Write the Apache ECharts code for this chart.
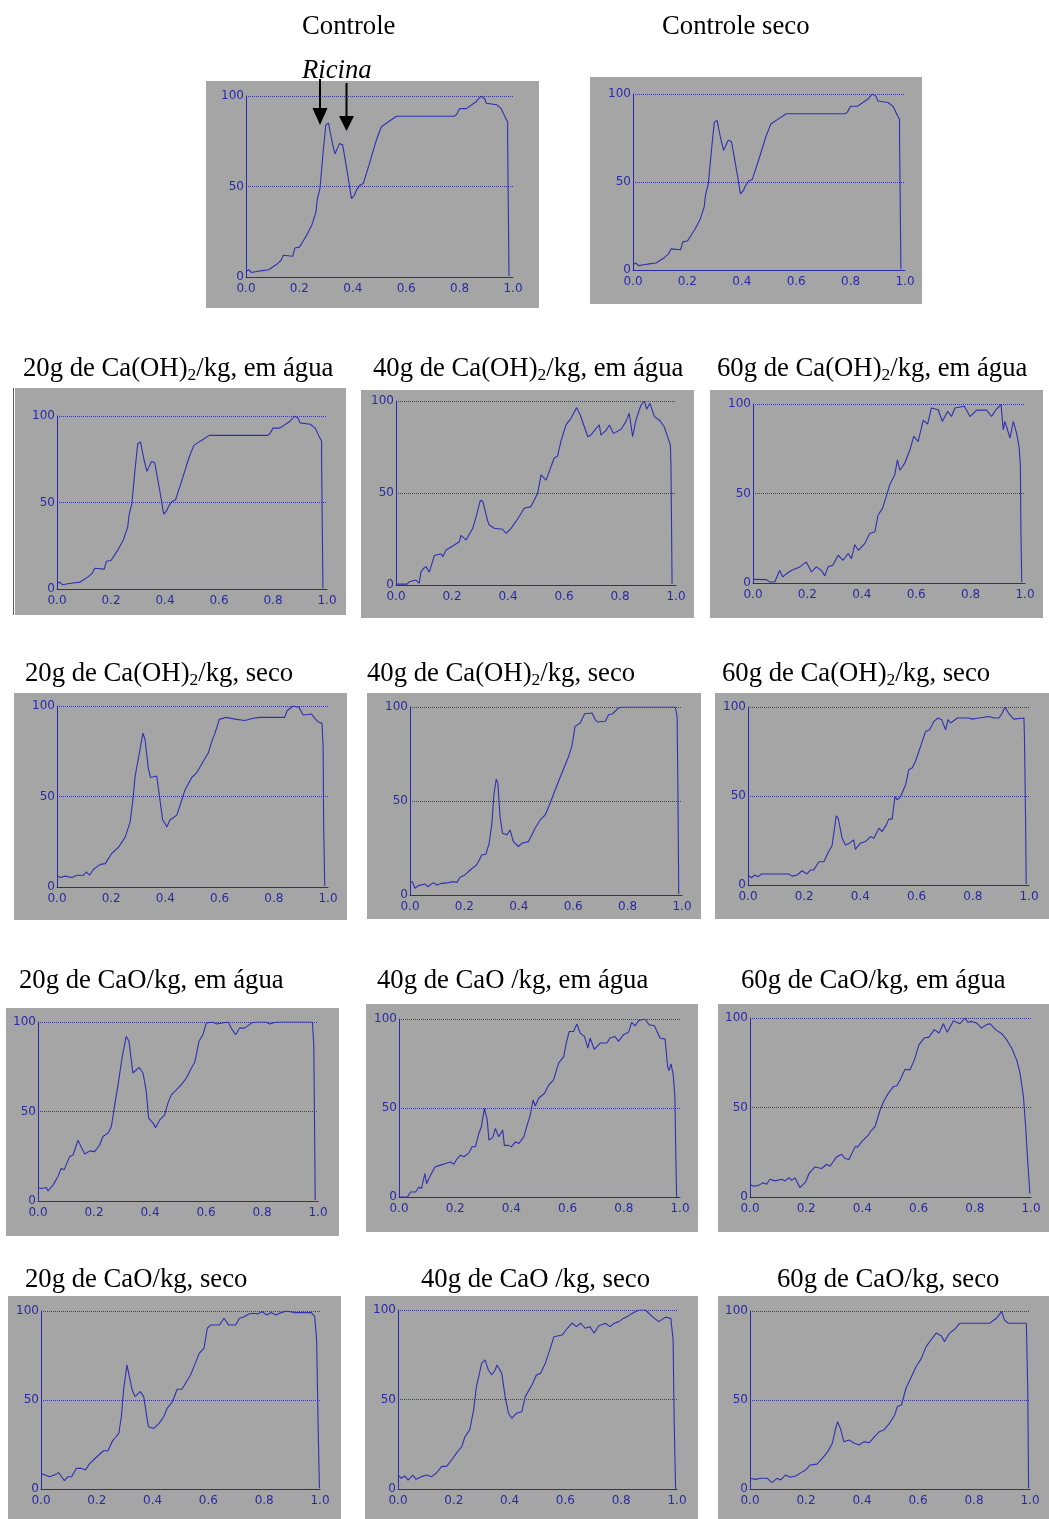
<!DOCTYPE html>
<html>
<head>
<meta charset="utf-8">
<script src="https://cdn.jsdelivr.net/npm/echarts@6/dist/echarts.min.js"></script>
<style>
  html, body { margin: 0; padding: 0; background: #ffffff; }
  #chart { width: 1049px; height: 1519px; }
</style>
</head>
<body>
<div id="chart"></div>
<script>
// Relative particle-size distribution curves (x: 0..1, y: 0..100)
const xTicks = [0.0, 0.2, 0.4, 0.6, 0.8, 1.0];
const yTicks = [0, 50, 100];

const controle = [[0,3],[0.01,4],[0.02,2.5],[0.04,3],[0.06,3.5],[0.085,4],[0.1,5.5],[0.115,7],[0.13,9],[0.14,12],[0.175,11.5],[0.183,16],[0.2,16.5],[0.215,20],[0.227,23],[0.246,28.5],[0.258,34],[0.262,36],[0.267,43],[0.277,49],[0.289,69],[0.299,84],[0.309,85],[0.322,75],[0.333,68],[0.35,73.7],[0.362,73],[0.377,60],[0.388,50],[0.395,43.3],[0.405,45],[0.414,48],[0.425,50.5],[0.439,51.6],[0.464,63.5],[0.489,76],[0.507,83],[0.532,85.6],[0.564,88.8],[0.78,88.8],[0.788,89.7],[0.8,93],[0.825,93],[0.863,97],[0.88,100],[0.894,98.5],[0.9,96],[0.938,95.2],[0.956,93],[0.973,87.5],[0.98,85.6],[0.98,74.6],[0.985,0.5]];

const controleSeco = [[0,3],[0.01,4],[0.02,2.5],[0.04,3],[0.06,3.5],[0.085,4],[0.1,5.5],[0.115,7],[0.13,9],[0.14,12],[0.175,11.5],[0.183,16],[0.2,16.5],[0.215,20],[0.227,23],[0.246,28.5],[0.258,34],[0.262,36],[0.267,43],[0.277,49],[0.289,69],[0.299,84],[0.309,85],[0.322,75],[0.333,68],[0.35,73.7],[0.362,73],[0.377,60],[0.388,50],[0.395,43.3],[0.405,45],[0.414,48],[0.425,50.5],[0.439,51.6],[0.464,63.5],[0.489,76],[0.507,83],[0.532,85.6],[0.564,88.8],[0.78,88.8],[0.788,89.7],[0.8,93],[0.825,93],[0.863,97],[0.88,100],[0.894,98.5],[0.9,96],[0.938,95.2],[0.956,93],[0.973,87.5],[0.98,85.6],[0.98,74.6],[0.985,0.5]];

const caoh20Agua = [[0,3],[0.01,4],[0.02,2.5],[0.04,3],[0.06,3.5],[0.085,4],[0.1,5.5],[0.115,7],[0.13,9],[0.14,12],[0.175,11.5],[0.183,16],[0.2,16.5],[0.215,20],[0.227,23],[0.246,28.5],[0.258,34],[0.262,36],[0.267,43],[0.277,49],[0.289,69],[0.299,84],[0.309,85],[0.322,75],[0.333,68],[0.35,73.7],[0.362,73],[0.377,60],[0.388,50],[0.395,43.3],[0.405,45],[0.414,48],[0.425,50.5],[0.439,51.6],[0.464,63.5],[0.489,76],[0.507,83],[0.532,85.6],[0.564,88.8],[0.78,88.8],[0.788,89.7],[0.8,93],[0.825,93],[0.863,97],[0.88,100],[0.894,98.5],[0.9,96],[0.938,95.2],[0.956,93],[0.973,87.5],[0.98,85.6],[0.98,74.6],[0.985,0.5]];

const caoh40Agua = [[0,0.5],[0.04,0.5],[0.048,1.8],[0.071,2.7],[0.083,1],[0.089,7],[0.098,9],[0.107,10],[0.119,7],[0.137,16],[0.161,17],[0.167,15.4],[0.179,19],[0.208,21.7],[0.226,23.5],[0.232,27],[0.25,24.5],[0.274,30.8],[0.286,37],[0.301,46],[0.31,45.5],[0.327,35],[0.333,32.6],[0.351,30.8],[0.381,30.3],[0.393,28],[0.411,30.8],[0.435,36],[0.458,41.7],[0.482,42.6],[0.506,49.8],[0.518,59.8],[0.536,57],[0.565,69],[0.577,70],[0.589,78],[0.607,87],[0.625,90.6],[0.645,96.4],[0.658,92.4],[0.685,80.6],[0.696,81.5],[0.714,85],[0.726,87],[0.732,81.5],[0.75,84],[0.762,87],[0.777,82.4],[0.804,84.6],[0.821,88.8],[0.833,93.3],[0.845,80.6],[0.857,89.7],[0.875,97.8],[0.887,100],[0.895,95.6],[0.907,98.7],[0.923,91.5],[0.94,89.7],[0.958,86],[0.97,80.6],[0.98,76],[0.982,65],[0.986,0.5]];

const caoh60Agua = [[0,2],[0.049,1.9],[0.061,0.6],[0.08,0.6],[0.098,7],[0.11,3.4],[0.123,5.2],[0.141,7],[0.172,9],[0.196,11.8],[0.215,6.2],[0.233,9],[0.252,7],[0.264,4],[0.276,9],[0.294,10],[0.313,15.5],[0.331,12.7],[0.35,16.5],[0.362,13.6],[0.374,21.5],[0.387,18.3],[0.411,22],[0.429,27.7],[0.448,28.6],[0.46,38],[0.476,41.7],[0.491,49],[0.503,55],[0.521,60.4],[0.531,68.8],[0.54,63],[0.558,67],[0.577,74.4],[0.591,82],[0.607,79],[0.626,91],[0.642,88.8],[0.656,97.8],[0.681,96.8],[0.696,90.3],[0.716,95.9],[0.73,93],[0.742,97.8],[0.777,98.7],[0.798,93],[0.822,96.6],[0.859,96.6],[0.877,93],[0.892,96.6],[0.912,99.6],[0.92,85.6],[0.926,90.3],[0.945,81],[0.957,90.3],[0.969,83.7],[0.978,76.3],[0.983,66],[0.985,28.6],[0.988,0.5]];

const caoh20Seco = [[0,6.5],[0.012,5.2],[0.031,6],[0.055,5.2],[0.074,6.5],[0.098,6.5],[0.108,8.3],[0.12,6.5],[0.135,9.8],[0.16,12.5],[0.178,12.9],[0.202,18.5],[0.227,22],[0.252,27.7],[0.27,36],[0.28,48],[0.288,61],[0.307,76.6],[0.317,85],[0.325,81.5],[0.337,65.5],[0.345,60.5],[0.368,61.3],[0.38,48],[0.39,37],[0.399,35],[0.405,33.2],[0.417,37],[0.442,39.7],[0.456,46],[0.472,53.5],[0.497,60.5],[0.515,63],[0.534,68],[0.558,74],[0.571,80.3],[0.583,85],[0.599,92.6],[0.623,93.7],[0.663,92.6],[0.693,92],[0.724,93.2],[0.748,93.7],[0.84,93.7],[0.849,97.4],[0.871,100],[0.893,99.3],[0.908,95],[0.939,95.6],[0.951,93.2],[0.963,91.3],[0.978,90.4],[0.982,77.5],[0.984,33],[0.988,0.4]];

const caoh40Seco = [[0,6.6],[0.009,7],[0.018,3.6],[0.031,5],[0.055,5.9],[0.065,4.4],[0.086,6.6],[0.098,5.3],[0.117,6.2],[0.141,6.6],[0.16,7.1],[0.172,6.6],[0.184,9.4],[0.202,10.7],[0.221,13.3],[0.245,16],[0.264,21.3],[0.279,21.7],[0.291,27.5],[0.301,38],[0.309,54],[0.317,61.6],[0.323,59.5],[0.331,41.7],[0.34,32.9],[0.356,32],[0.368,34.6],[0.38,28.4],[0.399,25.8],[0.411,27.5],[0.436,28.4],[0.46,35.5],[0.479,40],[0.497,42.6],[0.515,48.8],[0.534,56],[0.558,64.8],[0.583,73.7],[0.595,79],[0.607,89.7],[0.626,91.5],[0.642,96.4],[0.669,96.8],[0.681,93.3],[0.691,92],[0.718,92.4],[0.73,95.9],[0.745,96.4],[0.767,99.5],[0.779,100],[0.975,100],[0.982,95],[0.985,55.8],[0.988,0.5]];

const caoh60Seco = [[0,5.6],[0.012,4.1],[0.024,5.6],[0.036,4.7],[0.048,6.2],[0.145,6.2],[0.157,5],[0.175,5.6],[0.192,8],[0.21,6.2],[0.222,8.4],[0.234,8.4],[0.252,13.1],[0.27,13.1],[0.287,18.8],[0.299,22],[0.314,38.8],[0.321,37.5],[0.335,26.3],[0.347,22.5],[0.361,23.5],[0.376,25.3],[0.382,20],[0.4,23.5],[0.418,24.4],[0.436,27.2],[0.448,26.3],[0.466,31.9],[0.477,30],[0.492,33.8],[0.501,37],[0.513,37],[0.523,49.7],[0.531,47.8],[0.543,49.7],[0.561,56.3],[0.572,64.7],[0.584,65.7],[0.596,69.4],[0.608,75],[0.618,79.7],[0.632,86.3],[0.646,87.2],[0.661,91.9],[0.677,93.8],[0.689,92.9],[0.703,87.2],[0.712,92.9],[0.721,91],[0.745,93.8],[0.786,93.8],[0.798,93.2],[0.822,93.8],[0.857,94.7],[0.875,93.8],[0.893,93.8],[0.905,96.6],[0.914,100],[0.929,96.2],[0.946,93.2],[0.982,93.8],[0.984,81.6],[0.988,34.7],[0.99,0.5]];

const cao20Agua = [[0,7.5],[0.012,7],[0.018,6.2],[0.03,7.5],[0.036,5.6],[0.054,9],[0.071,13.6],[0.083,18.3],[0.093,17.4],[0.113,24.8],[0.125,25.7],[0.143,34],[0.155,29.9],[0.167,26.3],[0.185,28],[0.202,27.6],[0.22,31.3],[0.232,36],[0.25,37.9],[0.262,41.6],[0.274,53.7],[0.286,65],[0.301,80.8],[0.315,92],[0.325,89.2],[0.339,71.5],[0.345,70.5],[0.361,74.6],[0.375,71.5],[0.387,61],[0.395,46.3],[0.411,43.5],[0.42,41],[0.435,45.3],[0.452,48.1],[0.464,54.7],[0.476,59.3],[0.494,62.1],[0.512,65],[0.53,68.7],[0.548,74.3],[0.56,77.6],[0.575,89.2],[0.589,92.9],[0.601,99.4],[0.625,100],[0.637,98.9],[0.679,100],[0.69,96.6],[0.706,92.9],[0.72,96.6],[0.738,96.6],[0.762,99.4],[0.768,98.5],[0.78,100],[0.815,100],[0.827,98.9],[0.839,99.4],[0.857,100],[0.935,100],[0.94,99.1],[0.946,100],[0.98,100],[0.985,87.3],[0.988,37],[0.99,0.5]];

const cao40Agua = [[0,0],[0.03,0],[0.041,2.8],[0.059,2.8],[0.071,5.6],[0.08,4.7],[0.092,13.2],[0.098,7.5],[0.112,12.2],[0.128,16.9],[0.148,17.9],[0.166,18.8],[0.183,19.7],[0.195,18.4],[0.207,21.6],[0.219,23.5],[0.231,22.6],[0.249,24.8],[0.26,28.2],[0.272,28.2],[0.284,35.7],[0.293,39.5],[0.304,49.8],[0.314,43.2],[0.32,32],[0.334,33.5],[0.343,38.5],[0.355,33.8],[0.369,37.6],[0.375,29],[0.39,29],[0.4,28.2],[0.414,31],[0.426,30],[0.444,33.8],[0.456,40.4],[0.467,46],[0.477,54.5],[0.485,51.1],[0.497,55.5],[0.518,58.3],[0.533,62.9],[0.55,65.8],[0.568,75.2],[0.586,78.9],[0.595,86.5],[0.606,93],[0.621,93],[0.633,97.2],[0.645,92.1],[0.66,90.2],[0.672,83.6],[0.68,89.3],[0.695,83],[0.716,86.5],[0.74,86.5],[0.751,89.3],[0.769,90.2],[0.781,87.4],[0.799,91.2],[0.817,92.5],[0.828,98.1],[0.84,96.2],[0.854,99.2],[0.876,100],[0.89,96.8],[0.909,96.2],[0.929,89.3],[0.947,88.7],[0.956,73.3],[0.961,71],[0.968,74.8],[0.976,68.6],[0.982,55.5],[0.985,24.4],[0.988,0]];

const cao60Agua = [[0,7.1],[0.012,6],[0.03,6.5],[0.047,7.9],[0.059,7.1],[0.071,9.9],[0.089,9],[0.113,9.9],[0.125,9],[0.139,10.8],[0.148,9.3],[0.16,10.7],[0.178,5.2],[0.198,8.4],[0.21,13.1],[0.231,16.8],[0.255,15.9],[0.273,18.3],[0.285,17.2],[0.308,22.4],[0.326,23.9],[0.338,21.5],[0.352,20.9],[0.374,28],[0.383,28],[0.397,30.8],[0.421,34.6],[0.433,37.4],[0.445,39.3],[0.463,48.6],[0.478,54.2],[0.492,57.9],[0.51,61.7],[0.522,62],[0.534,65.4],[0.552,71.4],[0.569,71],[0.585,76.6],[0.601,85],[0.62,88.8],[0.637,89.3],[0.656,93.5],[0.673,91.6],[0.688,96.8],[0.702,92],[0.724,98.5],[0.747,96.8],[0.765,100],[0.775,97.6],[0.789,98.1],[0.807,97.2],[0.824,94.4],[0.842,96.3],[0.854,96.8],[0.874,93.5],[0.896,91.2],[0.913,87.9],[0.931,83.2],[0.949,76.6],[0.961,69.2],[0.973,56.1],[0.981,39.3],[0.988,20.6],[0.996,1.9]];

const cao20Seco = [[0,8.8],[0.014,7.9],[0.031,6.9],[0.048,7.9],[0.063,9.2],[0.072,7.3],[0.084,4.7],[0.096,6.9],[0.11,6.9],[0.127,11.6],[0.144,11.6],[0.159,10.7],[0.175,14.4],[0.188,16.3],[0.207,19.1],[0.224,21.5],[0.24,21.5],[0.255,26.6],[0.264,28.5],[0.279,31.3],[0.288,40.6],[0.296,55.6],[0.308,69.7],[0.315,68.7],[0.327,55.6],[0.337,51.9],[0.356,54.7],[0.368,51.9],[0.385,35],[0.404,34],[0.423,36.9],[0.44,40.6],[0.452,45.3],[0.471,49],[0.488,56],[0.505,56],[0.519,59.7],[0.536,64],[0.553,70.6],[0.567,76.2],[0.584,79],[0.596,90.3],[0.608,92.1],[0.639,92.1],[0.656,95.9],[0.673,92.1],[0.697,92.1],[0.712,95.9],[0.728,96.8],[0.745,98.3],[0.76,98.7],[0.776,98.3],[0.793,99.6],[0.808,97.8],[0.825,99.1],[0.841,97.8],[0.861,99.1],[0.88,100],[0.909,99.1],[0.969,99.1],[0.981,96.8],[0.988,83.7],[0.993,36.9],[0.998,0.4]];

const cao40Seco = [[0,7.8],[0.012,6],[0.024,7.3],[0.036,5],[0.053,7.8],[0.065,5.4],[0.084,6.9],[0.103,7.8],[0.12,6.9],[0.137,8.8],[0.156,12.5],[0.175,12.8],[0.192,16.2],[0.209,19.9],[0.228,23.6],[0.24,29.2],[0.257,33],[0.271,44.1],[0.281,57.2],[0.3,70.2],[0.312,72.1],[0.324,66.5],[0.336,63.7],[0.348,66.5],[0.355,69.3],[0.372,64.6],[0.384,51.6],[0.396,42.3],[0.408,39.5],[0.424,42.3],[0.444,43.2],[0.456,51.6],[0.48,58.1],[0.496,63.7],[0.511,64.6],[0.528,70.2],[0.544,77.7],[0.559,85.1],[0.588,86],[0.607,89.8],[0.624,92.6],[0.64,90.7],[0.655,92.6],[0.671,89.8],[0.688,90.7],[0.703,87],[0.719,91.1],[0.743,92.6],[0.76,90.7],[0.775,92.6],[0.791,93.5],[0.808,95.3],[0.822,96.3],[0.839,98.1],[0.863,100],[0.887,100],[0.911,96.3],[0.935,93.5],[0.959,96],[0.978,95.3],[0.986,83.2],[0.99,36.7],[0.995,0]];

const cao60Seco = [[0,6],[0.019,5.4],[0.038,6],[0.062,6],[0.079,3.6],[0.096,6],[0.11,5.1],[0.127,7.9],[0.144,6.6],[0.163,7.3],[0.182,9.2],[0.199,10.7],[0.215,13.5],[0.239,14],[0.258,17.2],[0.278,21],[0.294,25.7],[0.306,34.1],[0.313,37.8],[0.325,33.1],[0.335,26.6],[0.354,27.5],[0.373,25.7],[0.39,24.7],[0.407,26.6],[0.426,26],[0.445,29.4],[0.462,32.2],[0.478,33.1],[0.498,36.9],[0.517,41.6],[0.526,46.3],[0.541,47.2],[0.557,56.6],[0.574,62.2],[0.593,68.7],[0.612,73.4],[0.629,80],[0.646,83.7],[0.665,87.6],[0.684,86],[0.694,82.8],[0.713,87.6],[0.732,89.9],[0.749,93.1],[0.856,93.1],[0.88,95.9],[0.899,99.6],[0.909,94.9],[0.923,93.1],[0.987,93.1],[0.992,55.6],[0.995,0.4]];

// Panel titles (rich text: {s|2} is a subscript)
const titles = [
  'Controle', 'Controle seco',
  '20g de Ca(OH){s|2}/kg, em água', '40g de Ca(OH){s|2}/kg, em água', '60g de Ca(OH){s|2}/kg, em água',
  '20g de Ca(OH){s|2}/kg, seco', '40g de Ca(OH){s|2}/kg, seco', '60g de Ca(OH){s|2}/kg, seco',
  '20g de CaO/kg, em água', '40g de CaO /kg, em água', '60g de CaO/kg, em água',
  '20g de CaO/kg, seco', '40g de CaO /kg, seco', '60g de CaO/kg, seco'
];
const seriesData = [
  controle, controleSeco,
  caoh20Agua, caoh40Agua, caoh60Agua,
  caoh20Seco, caoh40Seco, caoh60Seco,
  cao20Agua, cao40Agua, cao60Agua,
  cao20Seco, cao40Seco, cao60Seco
];

// Layout: panel background [x, y, w, h], plot area [left, top, w, h], title [left, middle]
const layout = [
  { bg: [206, 81, 333, 227], plot: [246, 96, 267, 181], t: [302, 26.5] },
  { bg: [590, 77, 332, 227], plot: [633, 94, 272, 176], t: [662, 26.5] },
  { bg: [15, 388, 331, 227], plot: [57, 416, 270, 173], t: [23, 369] },
  { bg: [361, 390, 333, 228], plot: [396, 401, 280, 184], t: [373, 369] },
  { bg: [710, 390, 333, 228], plot: [753, 404, 272, 179], t: [717, 369] },
  { bg: [14, 693, 333, 227], plot: [57, 706, 271, 181], t: [25, 674] },
  { bg: [367, 693, 334, 226], plot: [410, 707, 272, 188], t: [367, 674] },
  { bg: [715, 693, 334, 226], plot: [748, 707, 281, 178], t: [722, 674] },
  { bg: [6, 1008, 333, 228], plot: [38, 1022, 280, 179], t: [19, 981] },
  { bg: [366, 1004, 332, 228], plot: [399, 1019, 281, 178], t: [377, 981] },
  { bg: [718, 1004, 331, 228], plot: [750, 1018, 281, 179], t: [741, 981] },
  { bg: [8, 1296, 333, 223], plot: [41, 1311, 279, 178], t: [25, 1280] },
  { bg: [365, 1296, 333, 223], plot: [398, 1310, 279, 179], t: [421, 1280] },
  { bg: [718, 1296, 331, 223], plot: [750, 1311, 280, 178], t: [777, 1280] }
];

const BLUE = '#2a2aa8';
const LINE = '#3030b0';
const GRAY = '#a5a5a5';
const SERIF = '"Liberation Serif", "Times New Roman", serif';
const TITLE_SIZE = 26.7;

const grids = [], xAxes = [], yAxes = [], series = [], titleOpts = [], graphics = [];

layout.forEach((L, i) => {
  grids.push({ left: L.plot[0], top: L.plot[1], width: L.plot[2], height: L.plot[3], containLabel: false, show: false });
  xAxes.push({
    type: 'value', gridIndex: i, min: xTicks[0], max: xTicks[xTicks.length - 1], interval: 0.2,
    axisLine: { show: true, onZero: false, lineStyle: { color: BLUE, width: 1 } },
    axisTick: { show: false },
    splitLine: { show: false },
    axisLabel: { color: BLUE, fontFamily: 'DejaVu Sans', fontSize: 12, margin: 6,
      formatter: v => v.toFixed(1) }
  });
  yAxes.push({
    type: 'value', gridIndex: i, min: yTicks[0], max: yTicks[yTicks.length - 1], interval: 50,
    axisLine: { show: true, onZero: false, lineStyle: { color: BLUE, width: 1 } },
    axisTick: { show: false },
    splitLine: { show: true, lineStyle: { color: '#3434b4', width: 1, type: [1, 1] } },
    axisLabel: { color: BLUE, fontFamily: 'DejaVu Sans', fontSize: 12, margin: 2 }
  });
  series.push({
    type: 'line', xAxisIndex: i, yAxisIndex: i, data: seriesData[i],
    showSymbol: false, symbol: 'none', silent: true, z: 5,
    lineStyle: { color: LINE, width: 1.1 }
  });
  titleOpts.push({
    text: titles[i], left: L.t[0], top: L.t[1] - 15, padding: 0,
    textStyle: {
      fontFamily: SERIF, fontSize: TITLE_SIZE, fontWeight: 'normal', color: '#000', lineHeight: 30,
      rich: { s: { fontFamily: SERIF, fontSize: 17.5, color: '#000', verticalAlign: 'bottom', lineHeight: 22 } }
    }
  });
  graphics.push({
    type: 'rect', z: -100, silent: true,
    shape: { x: L.bg[0], y: L.bg[1], width: L.bg[2], height: L.bg[3] },
    style: { fill: GRAY }
  });
});

// "Ricina" annotation with its two arrows over the first panel
titleOpts.push({
  text: 'Ricina', left: 302, top: 56, padding: 0,
  textStyle: { fontFamily: SERIF, fontSize: TITLE_SIZE, fontStyle: 'italic', fontWeight: 'normal', color: '#000', lineHeight: 30 }
});
graphics.push(
  { type: 'line', z: 100, shape: { x1: 320, y1: 79, x2: 320, y2: 110 }, style: { stroke: '#000', lineWidth: 2 } },
  { type: 'polygon', z: 100, shape: { points: [[312.5, 108], [327.5, 108], [320, 125]] }, style: { fill: '#000' } },
  { type: 'line', z: 100, shape: { x1: 346.5, y1: 83, x2: 346.5, y2: 118 }, style: { stroke: '#000', lineWidth: 2 } },
  { type: 'polygon', z: 100, shape: { points: [[339, 116], [354, 116], [346.5, 131]] }, style: { fill: '#000' } },
  // thin dark border at the left edge of the third panel
  { type: 'line', z: 100, shape: { x1: 13.5, y1: 388, x2: 13.5, y2: 615 }, style: { stroke: '#5a5a5a', lineWidth: 1 } }
);

const chart = echarts.init(document.getElementById('chart'), null, { renderer: 'canvas' });
chart.setOption({
  backgroundColor: '#ffffff',
  animation: false,
  title: titleOpts,
  grid: grids,
  xAxis: xAxes,
  yAxis: yAxes,
  series: series,
  graphic: graphics
});
</script>
</body>
</html>
